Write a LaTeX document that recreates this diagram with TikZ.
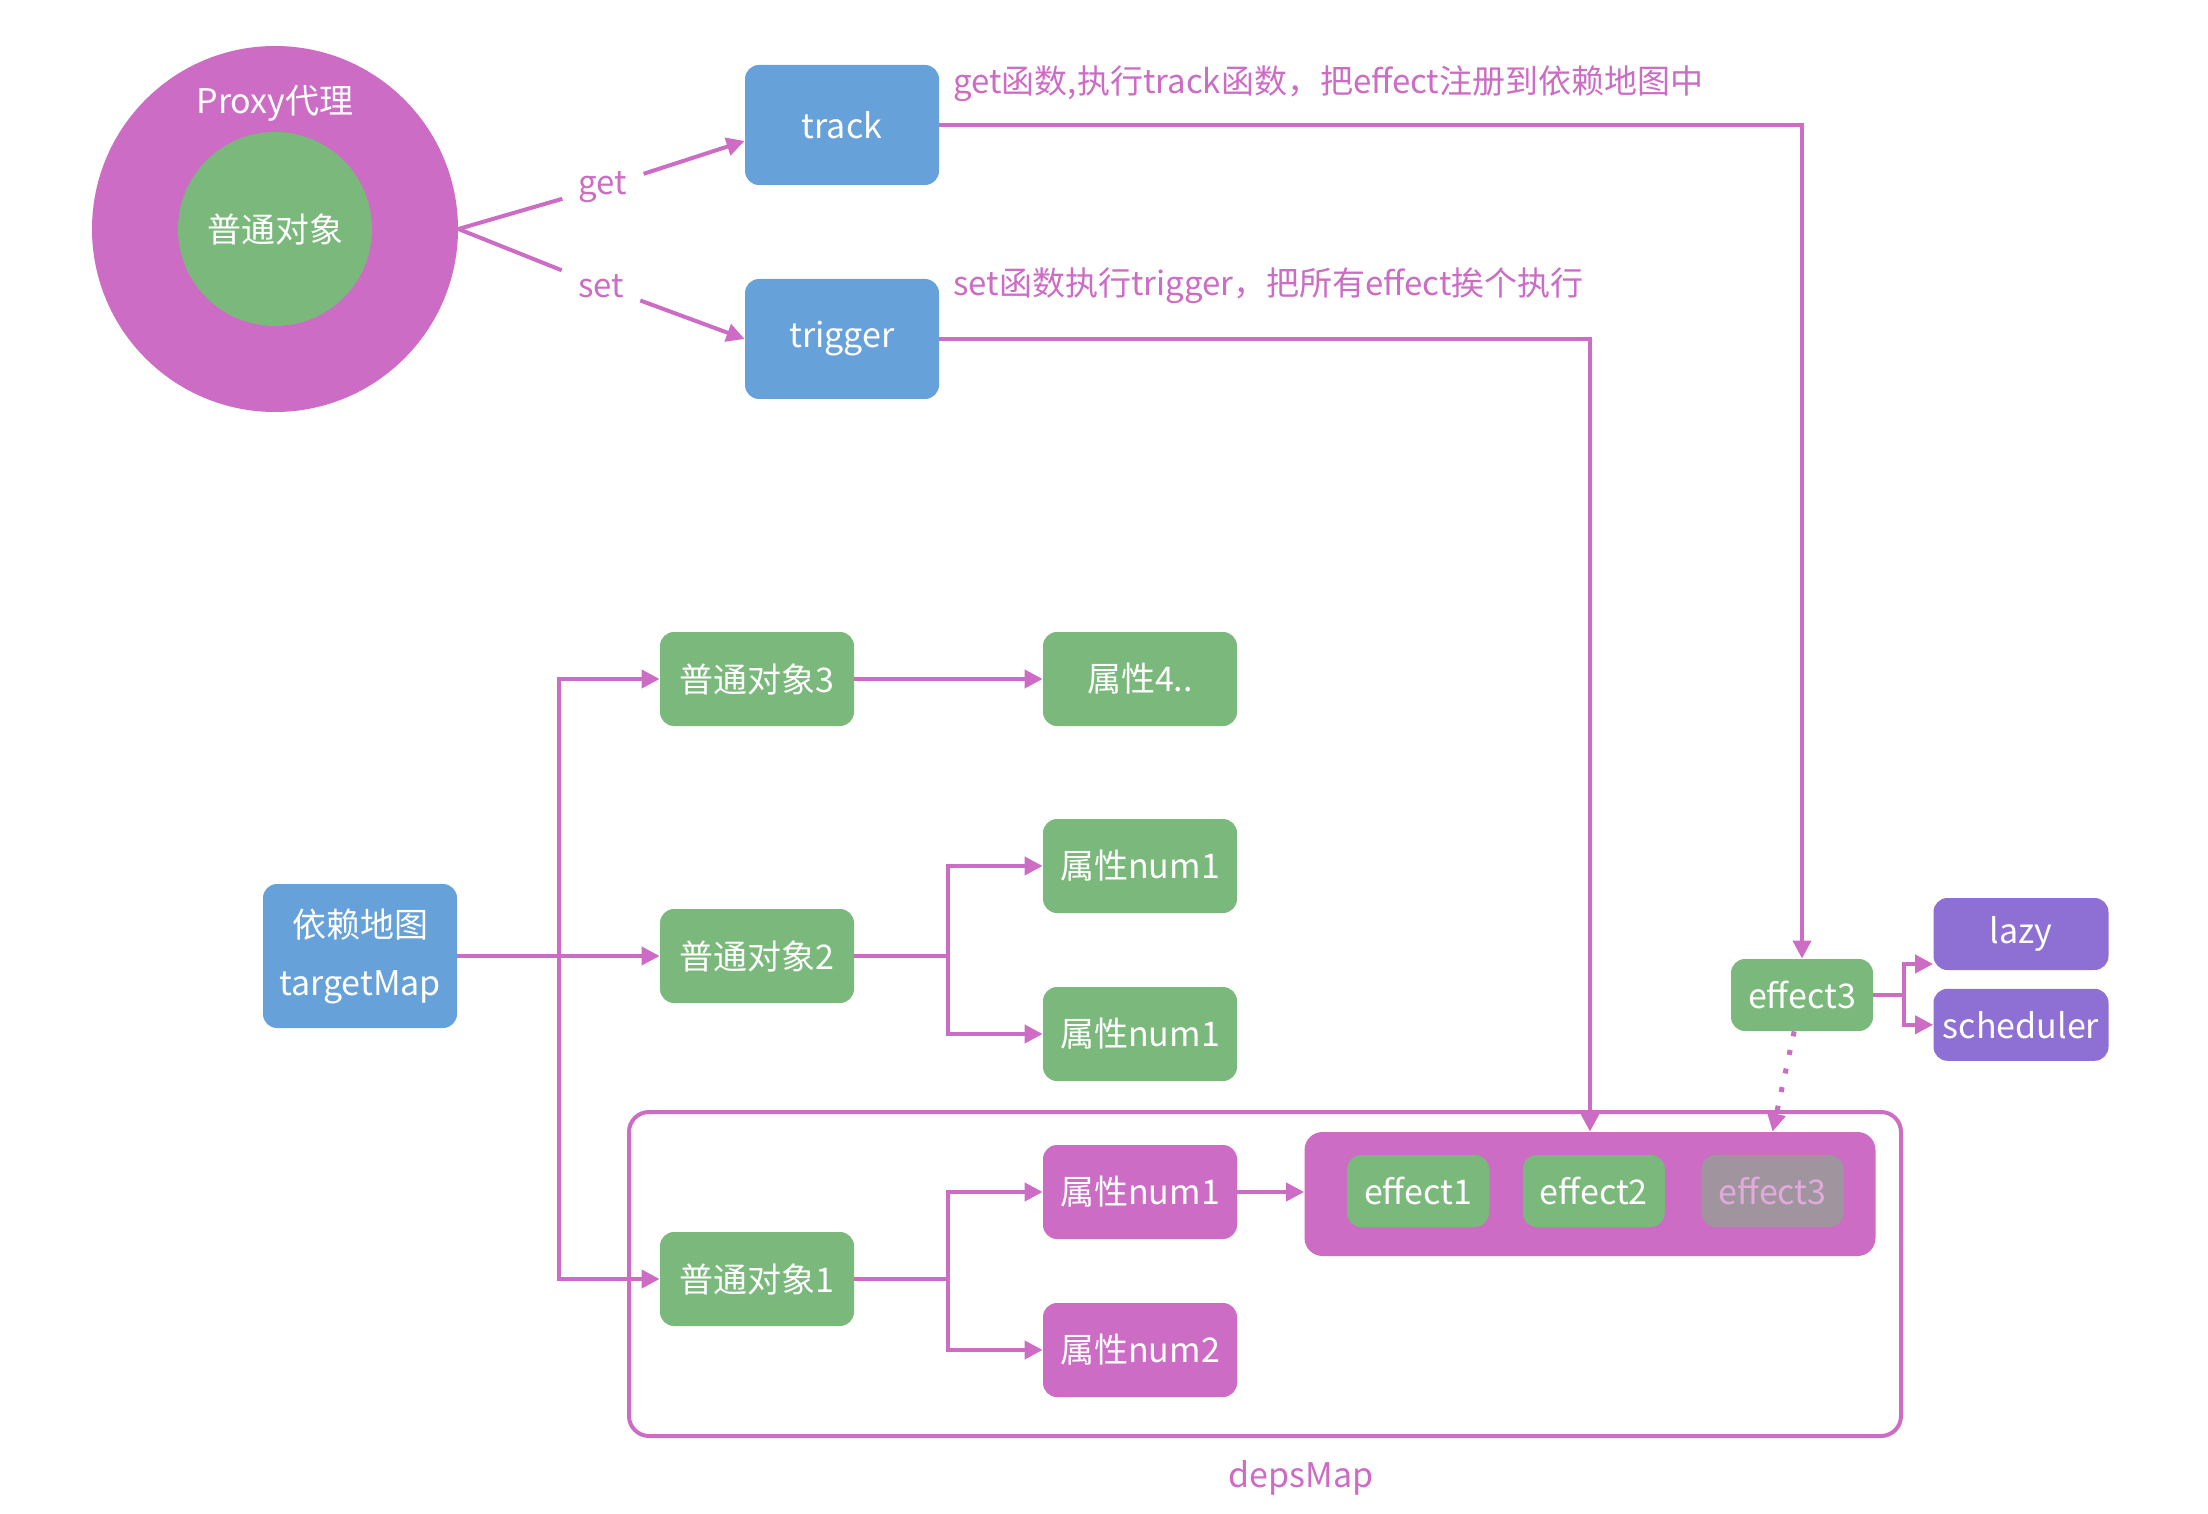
\documentclass[tikz,border=0pt]{standalone}
\usepackage{fontspec}
\setmainfont{Noto Sans CJK SC}
\usetikzlibrary{arrows.meta,positioning}

\definecolor{mag}{HTML}{CC6CC4}
\definecolor{grn}{HTML}{7AB87B}
\definecolor{blu}{HTML}{66A1DA}
\definecolor{pur}{HTML}{8E6FD3}
\definecolor{ghost}{HTML}{A0949F}
\definecolor{ghosttext}{HTML}{E2AADB}

\begin{document}
\begin{tikzpicture}[x=0.5pt, y=-0.5pt, font=\fontsize{17}{20}\selectfont,
  box/.style={rounded corners=7pt, text=white, inner sep=0pt, align=center, minimum width=97pt, minimum height=47pt},
  greenbox/.style={box, fill=grn},
  bluebox/.style={box, fill=blu, minimum height=60pt},
  magbox/.style={box, fill=mag},
  purplebox/.style={box, fill=pur, minimum width=87.5pt, minimum height=36pt},
  effectbox/.style={box, fill=grn, minimum width=71pt, minimum height=36pt},
  wire/.style={draw=mag, line width=2pt, -{Triangle[length=9pt,width=9pt]}},
  wireplain/.style={draw=mag, line width=2pt},
  note/.style={text=mag, font=\fontsize{16.5}{19}\selectfont},
]
\useasboundingbox (0,0) rectangle (2208,1514);

% proxy circle
\node[circle, fill=mag, minimum size=183pt, inner sep=0pt] (proxy) at (275,229) {};
\node[circle, fill=grn, minimum size=97pt, inner sep=0pt, text=white] (plain) at (275,229) {普通对象};
\node[text=white] (proxylbl) at (275,103) {Proxy代理};

\node[note, inner sep=8pt] (get) at (603,187) {get};
\node[note, inner sep=8pt] (set) at (601,286) {set};

\node[bluebox] (track) at (842,125) {track};
\node[bluebox] (trigger) at (842,339) {trigger};

\node[note, anchor=west, inner sep=0pt] (tracknote) at (953,84) {get函数,执行track函数，把effect注册到依赖地图中};
\node[note, anchor=west, inner sep=0pt] (triggernote) at (953,286) {set函数执行trigger，把所有effect挨个执行};

\draw[wireplain] (proxy.east) -- (get);
\draw[wireplain] (proxy.east) -- (set);
\draw[wire] (get) -- ([yshift=-8pt]track.west);
\draw[wire] (set) -- (trigger.west);

% targetMap
\node[box, fill=blu, minimum height=72pt, font=\fontsize{17}{29}\selectfont] (targetMap) at (360,956) {依赖地图\\targetMap};

\node[greenbox] (obj3) at (757,679) {普通对象3};
\node[greenbox] (obj2) at (757,956) {普通对象2};
\node[greenbox] (obj1) at (757,1279) {普通对象1};

\node[greenbox] (attr4) at (1140,679) {属性4..};
\node[greenbox] (attr21) at (1140,866) {属性num1};
\node[greenbox] (attr22) at (1140,1034) {属性num1};

% depsMap
\node[draw=mag, line width=2pt, rounded corners=10pt, minimum width=636pt, minimum height=162pt] (depsMap) at (1265,1274) {};
\node[text=mag] (depslbl) at (1301,1478) {depsMap};

\node[magbox] (attr11) at (1140,1192) {属性num1};
\node[magbox] (attr12) at (1140,1350) {属性num2};

\node[box, fill=mag, rounded corners=9pt, minimum width=285.5pt, minimum height=62pt] (effects) at (1590,1194) {};
\node[effectbox] (effect1) at (1418,1191) {effect1};
\node[effectbox, right=16.5pt of effect1] (effect2) {effect2};
\node[effectbox, fill=ghost, text=ghosttext, right=18pt of effect2] (ghost3) {effect3};

\node[effectbox] (effect3) at (1802,995) {effect3};
\node[purplebox] (lazy) at (2021,934) {lazy};
\node[purplebox, below=9pt of lazy] (scheduler) {scheduler};

% connectors
\coordinate (fork0) at (559,956);
\coordinate (fork2) at (948,956);
\coordinate (fork1) at (948,1279);
\coordinate (fork3) at (1904,995);

\draw[wire] (targetMap) -- (obj2);
\draw[wire] (fork0) |- (obj3);
\draw[wire] (fork0) |- (obj1);
\draw[wire] (obj3) -- (attr4);
\draw[wireplain] (obj2) -- (fork2);
\draw[wire] (fork2) |- (attr21);
\draw[wire] (fork2) |- (attr22);
\draw[wireplain] (obj1) -- (fork1);
\draw[wire] (fork1) |- (attr11);
\draw[wire] (fork1) |- (attr12);
\draw[wire] (attr11.east) -- (attr11.east -| effects.west);

\draw[wire] (track) -| (effect3);
\draw[wire] (trigger) -| (effects);
\draw[wire, line width=2.5pt, dash pattern=on 2.5pt off 7pt] (effect3) -- (ghost3.north |- effects.north);
\draw[wireplain] (effect3) -- (fork3);
\draw[wire] (fork3) |- ([yshift=-15pt]lazy.west);
\draw[wire] (fork3) |- (scheduler);

\end{tikzpicture}
\end{document}
